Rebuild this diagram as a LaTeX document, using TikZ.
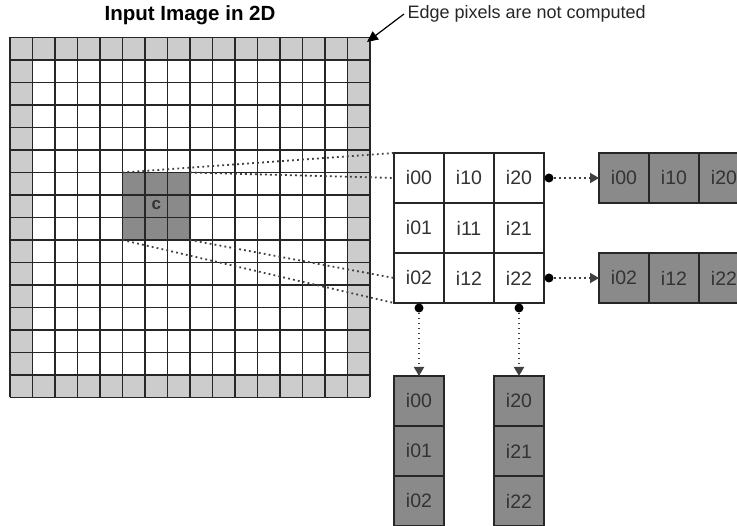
\documentclass[tikz,border=0pt]{standalone}
\usepackage{fontspec}
\setmainfont{Liberation Sans}
\usetikzlibrary{positioning}
\usetikzlibrary{arrows.meta}
\definecolor{edgegray}{gray}{0.80}
\definecolor{kernelgray}{gray}{0.54}
\tikzset{
        cell/.style={draw=black!85, line width=1.4pt, outer sep=0pt, inner sep=0pt,
                minimum width=50pt, minimum height=50pt, text=black!80,
                font=\fontsize{19.5}{20}\selectfont},
        % Kernel cells (white)
        cell_kernel/.style={cell, fill=white},
        % Output cells (gray)
        cell_out/.style={cell, fill=kernelgray},
        % Grid lines of the input image
        gridline/.style={line width=1.4pt, black!85},
        % Dotted guide lines
        guide/.style={black!75, line width=1.8pt, dash pattern=on 1.8pt off 3.2pt},
        % Dotted arrows
        feed/.style={guide, -{Triangle[length=9pt,width=10pt]}},
        dot/.style={circle, fill=black, inner sep=0pt, minimum size=9pt}
}
\begin{document}
\begin{tikzpicture}[x=1pt, y=-1pt]
    \useasboundingbox (0,0) rectangle (737,526);
    % input image
    \fill[edgegray] (10,37.5) rectangle (370,397.5);
    \fill[white] (32.5,60) rectangle (347.5,375);
    \fill[kernelgray] (122.5,172.5) rectangle (190,240);
    \foreach \i in {0,...,16} {
        \draw[gridline] ({10+22.5*\i},37.5) -- ({10+22.5*\i},397.5);
        \draw[gridline] (10,{37.5+22.5*\i}) -- (370,{37.5+22.5*\i});
    }
    \node[text=black!80, font=\bfseries\fontsize{17}{17}\selectfont] (pix_c) at (156.25,205) {c};
    \node[font=\bfseries\fontsize{20.5}{21}\selectfont] (title) at (190,15) {Input Image in 2D};
    \node[anchor=west, text=black!85, font=\fontsize{18}{18}\selectfont] (edge_note) at (404,14) {Edge pixels are not computed};
    \coordinate (grid_ne) at (367,42);
    \draw[line width=1.2pt, -{Triangle[length=11pt,width=10pt]}] (edge_note.west) -- (grid_ne);
    % kernel
    \foreach \c in {0,1,2}
        \foreach \r in {0,1,2}
            \node[cell_kernel] (c\c\r) at ({419+50*\c},{178+50*\r}) {i\c\r};
    \coordinate (blk_nw) at (122.5,172.5);
    \coordinate (blk_ne) at (190,172.5);
    \coordinate (blk_sw) at (122.5,240);
    \coordinate (blk_se) at (190,240);
    \draw[guide] (blk_nw) -- (c00.north west);
    \draw[guide] (blk_ne) -- (c00.west);
    \draw[guide] (blk_sw) -- (c02.south west);
    \draw[guide] (blk_se) -- (c02.west);
    % rows
    \node[cell_out, right=55pt of c20] (h00) {i00};
    \node[cell_out, right=0pt of h00] (h10) {i10};
    \node[cell_out, right=0pt of h10] (h20) {i20};
    \node[cell_out, right=55pt of c22] (h02) {i02};
    \node[cell_out, right=0pt of h02] (h12) {i12};
    \node[cell_out, right=0pt of h12] (h22) {i22};
    % columns
    \node[cell_out, below=73pt of c02] (v00) {i00};
    \node[cell_out, below=0pt of v00] (v01) {i01};
    \node[cell_out, below=0pt of v01] (v02) {i02};
    \node[cell_out, below=73pt of c22] (v20) {i20};
    \node[cell_out, below=0pt of v20] (v21) {i21};
    \node[cell_out, below=0pt of v21] (v22) {i22};
    % arrows
    \node[dot] (d_top) at ([xshift=5pt]c20.east) {};
    \node[dot] (d_bot) at ([xshift=5pt]c22.east) {};
    \node[dot] (d_left) at ([yshift=-5pt]c02.south) {};
    \node[dot] (d_right) at ([yshift=-5pt]c22.south) {};
    \draw[feed] (d_top) -- (h00);
    \draw[feed] (d_bot) -- (h02);
    \draw[feed] (d_left) -- (v00);
    \draw[feed] (d_right) -- (v20);
\end{tikzpicture}
\end{document}
